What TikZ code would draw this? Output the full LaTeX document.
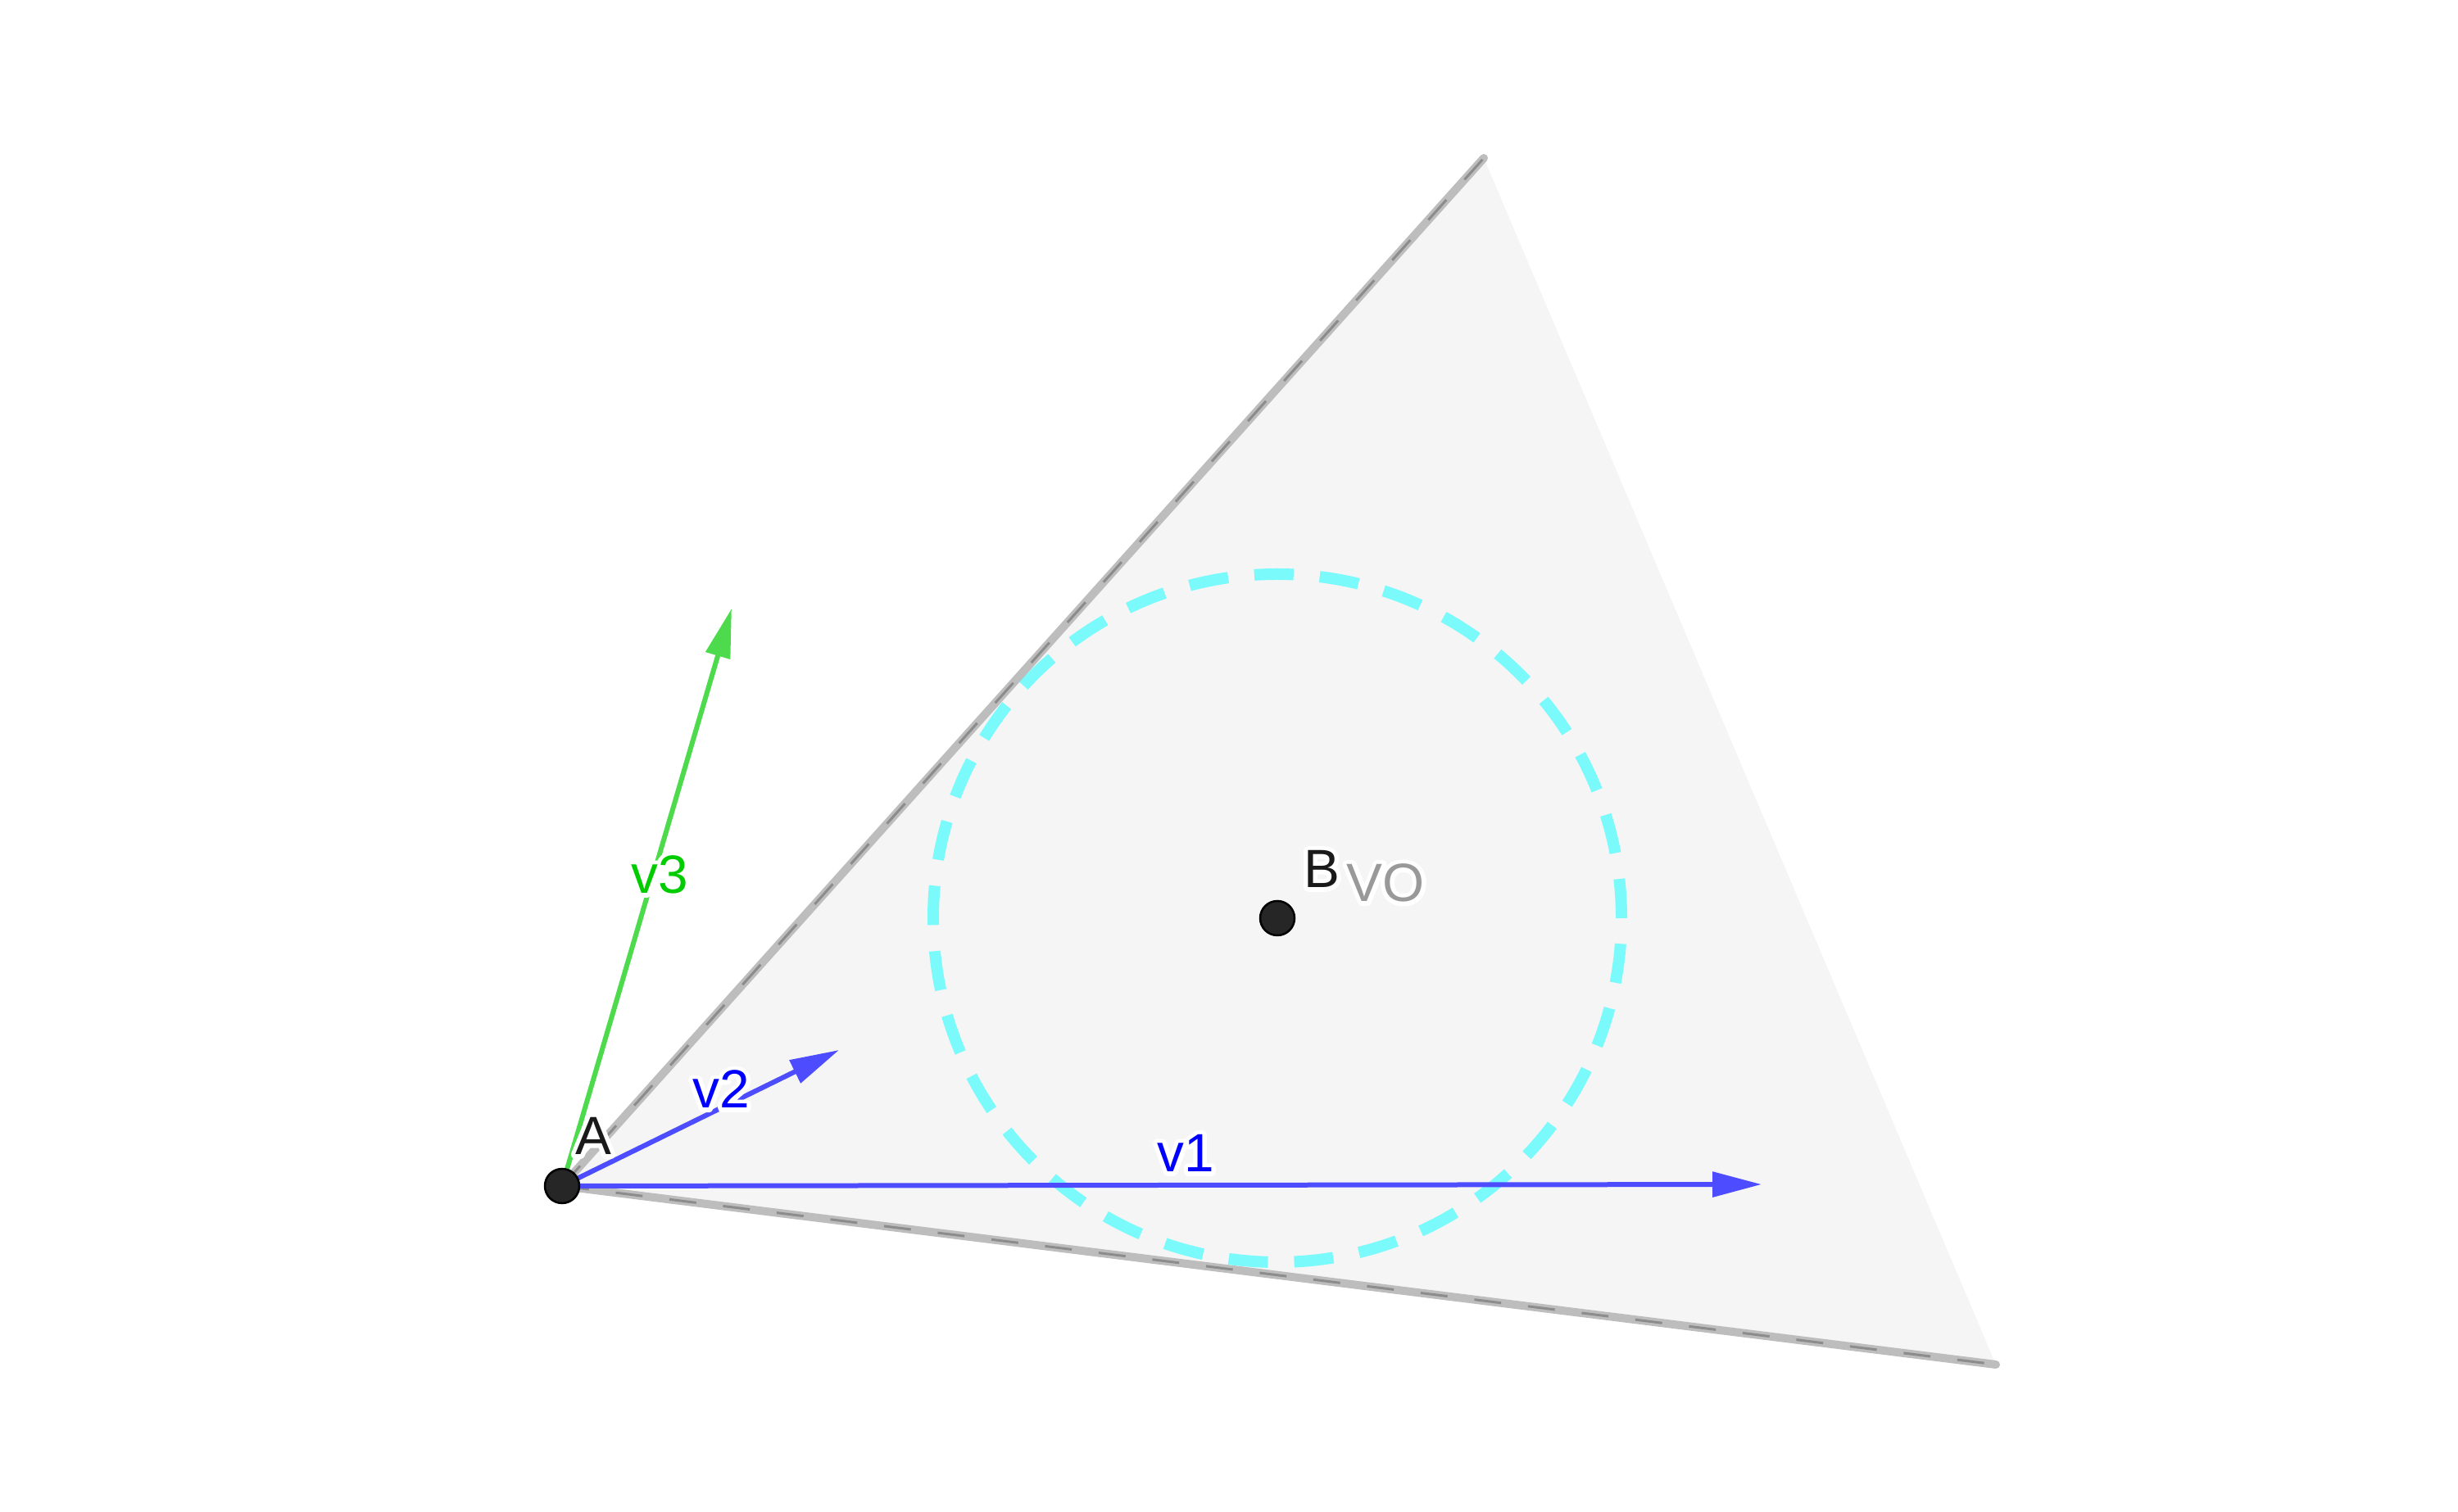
\documentclass[tikz,border=0pt]{standalone}
\usepackage{fontspec}
\setmainfont{Liberation Sans}
\usetikzlibrary{arrows.meta}
\definecolor{vofill}{RGB}{245,245,245}
\definecolor{edgegray}{RGB}{189,189,189}
\definecolor{edgedash}{RGB}{140,140,140}
\definecolor{ringcyan}{RGB}{0,255,255}
\definecolor{vecblue}{RGB}{77,77,255}
\definecolor{vecgreen}{RGB}{77,219,77}
\definecolor{ptfill}{RGB}{38,38,38}
\definecolor{lblgreen}{RGB}{0,204,0}
\definecolor{lbldark}{RGB}{26,26,26}
\definecolor{lblgray}{RGB}{153,153,153}
% white outline round a label
\newcommand\halo[1]{\leavevmode\rlap{\special{pdf:literal direct 1 Tr 3 w 1 j 1 1 1 RG}#1\special{pdf:literal direct 0 Tr}}#1}

\begin{document}
\begin{tikzpicture}[
  edge/.style={draw=edgegray, line width=0.1cm, line cap=round},
  edgemark/.style={draw=edgedash, line width=0.03cm, dash pattern=on 0.33cm off 0.33cm},
  ring/.style={draw=ringcyan, draw opacity=0.5, line width=0.14cm,
               dash pattern=on 0.48cm off 0.32cm},
  vec/.style={-{Triangle[length=0.6cm, width=0.3cm]}, line width=0.06cm, draw=#1},
  pt/.style={circle, draw=black, line width=0.025cm, fill=ptfill,
             minimum size=0.42cm, inner sep=0pt},
  lbl/.style={font=\fontsize{18.7}{22}\selectfont, inner sep=0pt, text=#1}
]
  \useasboundingbox (0,0) rectangle (30,18.45);
  % points and cone corners
  \coordinate (A) at (6.86,3.97);
  \coordinate (B) at (15.59,7.24);
  \coordinate (apex) at (18.11,16.52);
  \coordinate (foot) at (24.36,1.79);
  % velocity tips
  \coordinate (t1) at (21.50,3.99);
  \coordinate (t2) at (10.24,5.63);
  \coordinate (t3) at (8.93,11.02);
  % velocity obstacle
  \fill[vofill] (A) -- (apex) -- (foot) -- cycle;
  \draw[edge] (A) -- (apex);
  \draw[edge] (A) -- (foot);
  \draw[edgemark] (A) -- (apex);
  \draw[edgemark] (A) -- (foot);
  \draw[ring] (B) circle[radius=4.2];
  % velocities
  \draw[vec=vecblue] (A) -- (t1);
  \draw[vec=vecblue] (A) -- (t2);
  \draw[vec=vecgreen] (A) -- (t3);
  \node[pt] (ptA) at (A) {};
  \node[pt] (ptB) at (B) {};
  % labels
  \node[lbl=lbldark] (labA) at (7.24,4.58) {\halo{A}};
  \node[lbl=lbldark] (labB) at (16.13,7.84) {\halo{B}};
  \node[lbl=lblgray] (labVO) at (16.91,7.67) {\halo{VO}};
  \node[lbl=blue] (lab1) at (14.47,4.37) {\halo{v1}};
  \node[lbl=blue] (lab2) at (8.80,5.15) {\halo{v2}};
  \node[lbl=lblgreen] (lab3) at (8.05,7.77) {\halo{v3}};
\end{tikzpicture}
\end{document}
